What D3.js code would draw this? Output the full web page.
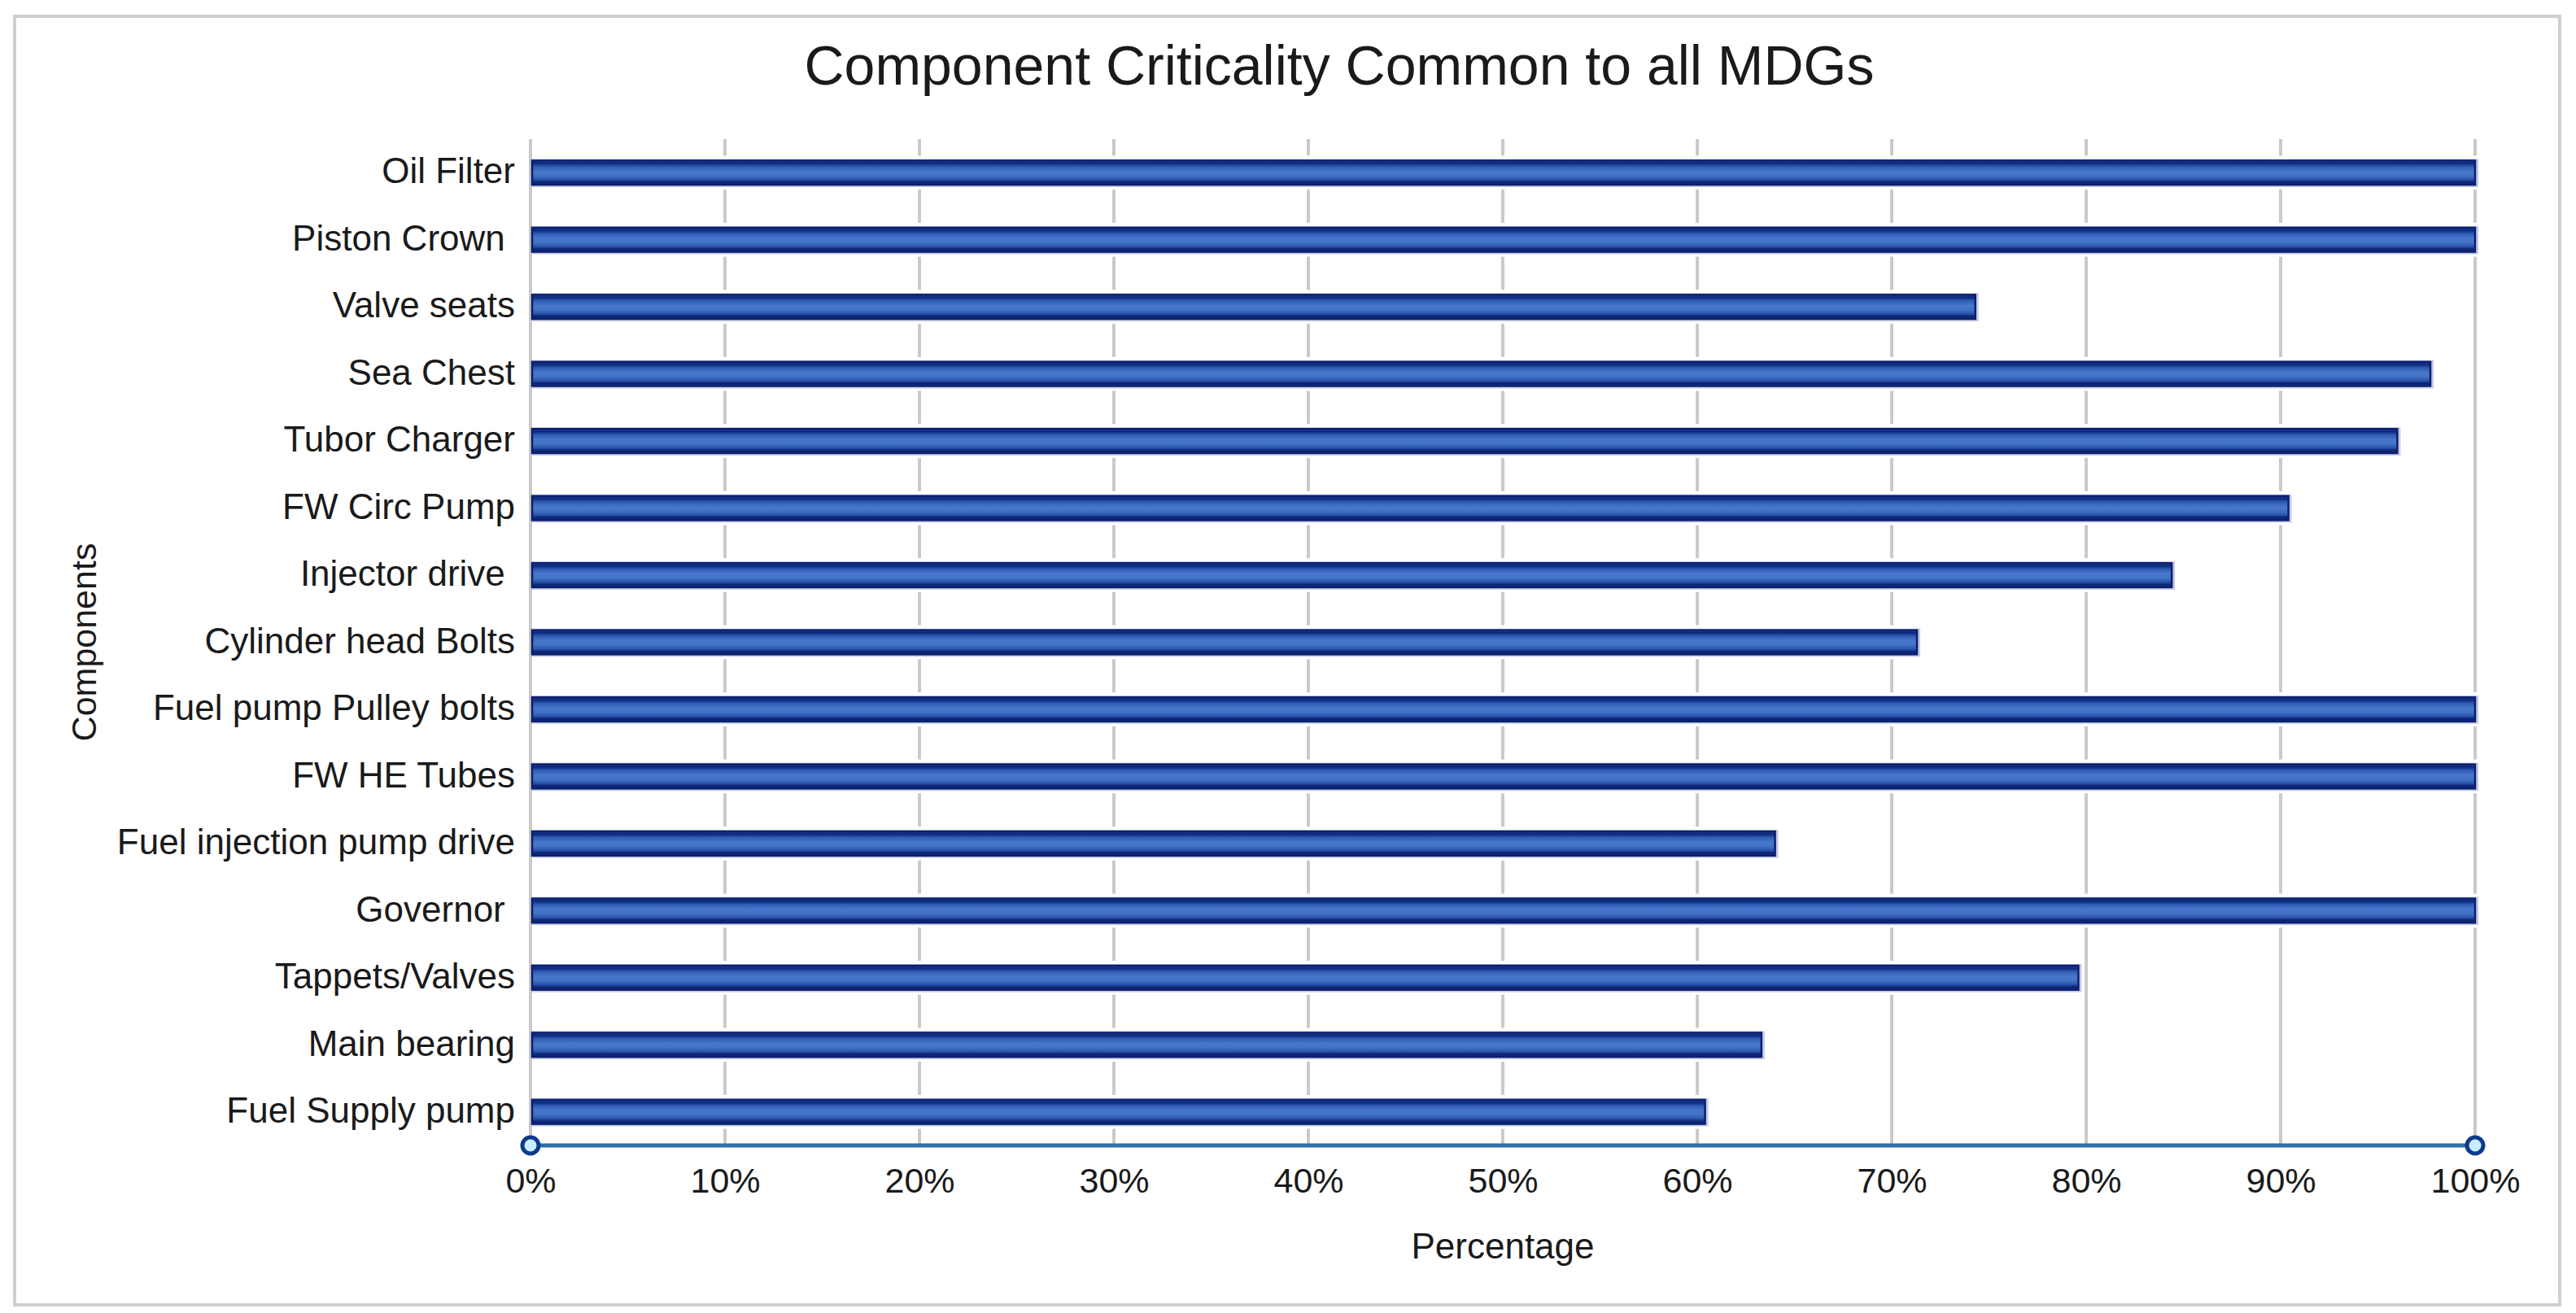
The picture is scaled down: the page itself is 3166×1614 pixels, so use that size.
<!DOCTYPE html>
<html>
<head>
<meta charset="utf-8">
<script src="https://cdn.jsdelivr.net/npm/d3@7"></script>
<style>
  body { margin: 0; background: #fff; }
  text { font-family: "Liberation Sans", Arial, Helvetica, sans-serif; fill: #1a1a1a; }
  .ylab text { white-space: pre; }
</style>
</head>
<body>
<script>
// data (percent)
let components = ["Oil Filter", "Piston Crown ", "Valve seats", "Sea Chest", "Tubor Charger",
    "FW Circ Pump", "Injector drive ", "Cylinder head Bolts", "Fuel pump Pulley bolts",
    "FW HE Tubes", "Fuel injection pump drive", "Governor ", "Tappets/Valves",
    "Main bearing", "Fuel Supply pump"];
let criticality = [100, 100, 74.3, 97.7, 96.0, 90.4, 84.4, 71.3, 100, 100, 64.0, 100, 79.6, 63.3, 60.4];
let xTicks = [0, 10, 20, 30, 40, 50, 60, 70, 80, 90, 100];

let width = 3166,
    height = 1614;
let plotLeft = 652, plotRight = 3042, plotTop = 171, plotBottom = 1408;

let svg = d3.select("body")
    .append("svg")
    .attr("width", width)
    .attr("height", height);

// outer frame
svg.append("rect")
    .attr("x", 18).attr("y", 20)
    .attr("width", 3128).attr("height", 1584)
    .attr("fill", "#fff")
    .attr("stroke", "#cfcfcf")
    .attr("stroke-width", 4);

let x = d3.scaleLinear().domain([0, 100]).range([plotLeft, plotRight]);
let y = d3.scaleBand().domain(components).range([plotTop, plotBottom])
    .paddingInner(0.64).paddingOuter(0.32);

// bar gradient
let defs = svg.append("defs");
let grad = defs.append("linearGradient")
    .attr("id", "barGrad")
    .attr("x1", 0).attr("y1", 0).attr("x2", 0).attr("y2", 1);
[[0, "#3550a0"], [0.1, "#0a2478"], [0.25, "#2f5cb5"], [0.45, "#4777ca"],
 [0.62, "#4272c4"], [0.78, "#2a55ad"], [0.9, "#08206f"], [1, "#1e3a8a"]]
    .forEach(function(s){
        grad.append("stop").attr("offset", s[0]).attr("stop-color", s[1]);
    });

// gridlines
svg.append("g")
    .selectAll("line")
    .data(xTicks)
    .enter()
    .append("line")
    .attr("x1", function(d){ return x(d); })
    .attr("x2", function(d){ return x(d); })
    .attr("y1", plotTop)
    .attr("y2", plotBottom)
    .attr("stroke", "#cacaca")
    .attr("stroke-width", 4);

let bars = svg.append("g")
    .selectAll("g")
    .data(components)
    .enter()
    .append("g");

// white gap + lavender halo around each bar
bars.append("rect")
    .attr("x", x(0) + 2)
    .attr("y", function(d){ return y(d) - 6; })
    .attr("width", function(d, i){ return x(criticality[i]) - x(0) + 2; })
    .attr("height", y.bandwidth() + 12)
    .attr("fill", "#fff");
bars.append("rect")
    .attr("x", x(0) + 2)
    .attr("y", function(d){ return y(d) - 2; })
    .attr("width", function(d, i){ return x(criticality[i]) - x(0) + 2; })
    .attr("height", y.bandwidth() + 5)
    .attr("fill", "#c6cbe4");

bars.append("rect")
    .attr("x", x(0) + 2)
    .attr("y", function(d){ return y(d); })
    .attr("width", function(d, i){ return x(criticality[i]) - x(0) - 2; })
    .attr("height", y.bandwidth())
    .attr("fill", "url(#barGrad)")
    .attr("stroke", "#0b1f6e")
    .attr("stroke-width", 2.5);

// bottom axis line with end markers
svg.append("line")
    .attr("x1", x(0)).attr("x2", x(100))
    .attr("y1", plotBottom).attr("y2", plotBottom)
    .attr("stroke", "#2f6fa8")
    .attr("stroke-width", 5);
svg.append("g")
    .selectAll("circle")
    .data([0, 100])
    .enter()
    .append("circle")
    .attr("cx", function(d){ return x(d); })
    .attr("cy", plotBottom)
    .attr("r", 10)
    .attr("fill", "#c8eeff")
    .attr("stroke", "#0d3a8a")
    .attr("stroke-width", 5);

// x axis labels
let xAxis = svg.append("g")
    .attr("transform", "translate(0," + plotBottom + ")")
    .call(d3.axisBottom(x).tickValues(xTicks).tickSize(0).tickPadding(27)
        .tickFormat(function(d){ return d + "%"; }));
xAxis.select(".domain").remove();
xAxis.selectAll("text")
    .style("font-size", "43px")
    .style("font-family", "'Liberation Sans', Arial, sans-serif")
    .attr("fill", "#1a1a1a");

// y axis labels
let yAxis = svg.append("g")
    .attr("class", "ylab")
    .attr("transform", "translate(" + plotLeft + ",0)")
    .call(d3.axisLeft(y).tickSize(0).tickPadding(19));
yAxis.select(".domain").remove();
yAxis.selectAll("text")
    .attr("dy", "0.3em")
    .style("font-size", "44px")
    .style("font-family", "'Liberation Sans', Arial, sans-serif")
    .attr("fill", "#1a1a1a");

// titles
svg.append("text")
    .attr("x", 1646)
    .attr("y", 104)
    .attr("text-anchor", "middle")
    .style("font-size", "68px")
    .text("Component Criticality Common to all MDGs");

svg.append("text")
    .attr("x", (plotLeft + plotRight) / 2)
    .attr("y", 1547)
    .attr("text-anchor", "middle")
    .style("font-size", "44px")
    .text("Percentage");

svg.append("text")
    .attr("transform", "translate(118," + (plotTop + plotBottom) / 2 + ") rotate(-90)")
    .attr("text-anchor", "middle")
    .style("font-size", "43px")
    .text("Components");
</script>
</body>
</html>
